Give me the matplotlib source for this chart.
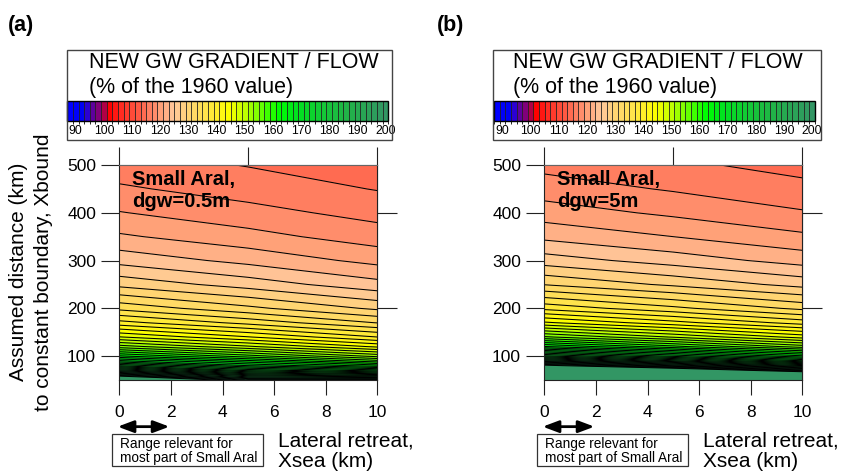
import numpy as np
import matplotlib
matplotlib.use("Agg")
import matplotlib.pyplot as plt
from matplotlib.colors import LinearSegmentedColormap, ListedColormap, BoundaryNorm
from matplotlib.cm import ScalarMappable
from matplotlib.patches import Rectangle

plt.rcParams['font.family'] = ['Liberation Sans', 'DejaVu Sans']

# --- data ---------------------------------------------------------------
xsea_km = [0, 5, 10]
xbound_km = [50, 55, 60, 65, 70, 80, 90, 100, 120, 140, 170, 200,
             250, 300, 350, 400, 450, 500]

# new gw gradient (% of 1960 value); one row per Xbound, columns = Xsea 0/5/10
grad_dgw05 = [
    [214.4, 196.5, 196.8],
    [205.7, 190.5, 189.1],
    [198.2, 186.0, 182.5],
    [191.8, 181.0, 176.9],
    [186.2, 176.5, 172.0],
    [176.8, 169.0, 163.9],
    [169.4, 163.5, 157.6],
    [163.3, 157.9, 152.4],
    [153.9, 149.3, 144.6],
    [147.1, 143.1, 139.0],
    [139.7, 136.3, 132.9],
    [134.4, 131.5, 128.6],
    [128.4, 126.1, 123.7],
    [124.3, 122.4, 120.4],
    [121.3, 119.7, 118.0],
    [119.1, 117.7, 116.3],
    [117.3, 116.1, 114.9],
    [115.9, 114.9, 113.8],
]
grad_dgw5 = [
    [283.2, 263.0, 242.8],
    [261.7, 244.6, 227.4],
    [244.8, 229.9, 215.0],
    [231.1, 218.0, 204.9],
    [219.8, 208.2, 196.5],
    [202.4, 192.8, 183.2],
    [189.4, 181.3, 173.2],
    [179.5, 172.5, 165.4],
    [165.1, 159.6, 154.0],
    [155.3, 150.8, 146.2],
    [145.3, 141.7, 138.1],
    [138.4, 135.5, 132.5],
    [130.9, 128.6, 126.3],
    [126.0, 124.1, 122.2],
    [122.5, 121.0, 119.4],
    [120.0, 118.6, 117.2],
    [118.0, 116.8, 115.6],
    [116.4, 115.4, 114.3],
]
panel_tags = ['(a)', '(b)']
panel_notes = ['Small Aral,\ndgw=0.5m', 'Small Aral,\ndgw=5m']
relevant_range = [0, 2]
cbar_ticks = list(range(90, 201, 10))

# --- colour scale: one box per 2 %, centred on even values ------------------
anchors = [
    (88, '#0000ff'), (92, '#0000f5'), (94, '#3200cd'), (96, '#5f009b'),
    (98, '#870073'), (100, '#b40041'), (102, '#ff0000'), (104, '#ff1914'),
    (108, '#ff3c2d'), (112, '#ff5a44'), (116, '#ff7d5f'), (120, '#ffa078'),
    (124, '#ffc396'), (126, '#ffcb91'), (130, '#ffd573'), (136, '#ffe44b'),
    (140, '#fff028'), (144, '#ffff00'), (150, '#beff00'), (156, '#64ff00'),
    (162, '#00ff00'), (168, '#00e41e'), (178, '#14c837'), (188, '#23af4b'),
    (200, '#329664'),
]
cont = LinearSegmentedColormap.from_list(
    'gw', [((v - 88) / 112, c) for v, c in anchors])
levels = np.arange(87, 202, 2)
box_colors = cont(np.linspace(0, 1, len(levels) - 1))
cmap = ListedColormap(box_colors)
cmap.set_under(box_colors[0])
cmap.set_over(box_colors[-1])
norm = BoundaryNorm(levels, cmap.N)

fig = plt.figure(figsize=(8.43, 4.72), dpi=100)

W, H = 843.0, 472.0
def fx(px):
    return px / W
def fy(px):
    return (H - px) / H

ax_left_px = [119.3, 544.3]
frame_left_px = [66.7, 492.7]
frame_w_px = [325, 328]
cbar_left_px = [67.3, 494.0]
title_left_px = [89.3, 513.3]
xlab_left_px = [278.0, 703.3]
box_left_px = [112.0, 536.7]
tag_left_px = [8.0, 437.0]

for i, grad in enumerate([grad_dgw05, grad_dgw5]):
    ax = fig.add_axes([fx(ax_left_px[i]), fy(380), 258 / W, 215 / H])
    X, Y = np.meshgrid(xsea_km, xbound_km)
    Z = np.array(grad)
    ax.contourf(X, Y, Z, levels=levels, cmap=cmap, norm=norm, extend='both')
    ax.contour(X, Y, Z, levels=levels, colors='k', linewidths=0.75)
    ax.set_xlim(0, 10)
    ax.set_ylim(50, 500)
    ax.set_xticks(range(0, 11, 2))
    ax.set_yticks(range(100, 501, 100))
    ax.tick_params(axis='y', length=12.7, width=0.8, color='#222222',
                   labelsize=12.5, pad=4)
    ax.tick_params(axis='x', length=10.8, width=0.8, color='#222222',
                   labelsize=12.5, pad=7)
    for s in ['left', 'right', 'bottom']:
        ax.spines[s].set_color('#222222')
        ax.spines[s].set_linewidth(0.8)
    ax.spines['top'].set_color('#666666')

    top = ax.secondary_xaxis('top')
    top.set_xticks([0, 5, 10])
    top.tick_params(length=13, width=0.8, color='#222222', labeltop=False)
    top.spines['top'].set_color('#666666')
    right = ax.secondary_yaxis('right')
    right.set_yticks([200, 400])
    right.tick_params(length=14.4, width=0.8, color='#222222', labelright=False)
    right.spines['right'].set_color('#222222')

    ax.text(0.048, 0.975, panel_notes[i], transform=ax.transAxes,
            ha='left', va='top', fontsize=14.5, fontweight='bold', zorder=5)

    # double arrow marking the relevant range
    ax.annotate('', xy=(relevant_range[1] + 0.05, -0.217),
                xytext=(relevant_range[0] - 0.17, -0.217),
                xycoords=ax.get_xaxis_transform(),
                textcoords=ax.get_xaxis_transform(),
                arrowprops=dict(arrowstyle='<|-|>,head_length=0.8,head_width=0.3',
                                color='k', lw=2, mutation_scale=12),
                annotation_clip=False)

    # range box
    fig.add_artist(Rectangle((fx(box_left_px[i]), fy(466)), 151 / W, 32 / H,
                             transform=fig.transFigure, fill=False,
                             edgecolor='#333333', lw=0.9))
    fig.text(fx(box_left_px[i] + 8), fy(448.3), 'Range relevant for',
             fontsize=9.8, va='baseline')
    fig.text(fx(box_left_px[i] + 8), fy(461.7), 'most part of Small Aral',
             fontsize=9.8, va='baseline')

    # x label
    fig.text(fx(xlab_left_px[i]), fy(446.7), 'Lateral retreat,',
             fontsize=15, va='baseline')
    fig.text(fx(xlab_left_px[i]), fy(466.7), 'Xsea (km)',
             fontsize=15, va='baseline')

    # legend frame with colour bar
    fig.add_artist(Rectangle((fx(frame_left_px[i]), fy(140)),
                             frame_w_px[i] / W, 90 / H,
                             transform=fig.transFigure, fill=False,
                             edgecolor='#444444', lw=1.0))
    fig.text(fx(title_left_px[i]), fy(68.3), 'NEW GW GRADIENT / FLOW',
             fontsize=15.5, va='baseline')
    fig.text(fx(title_left_px[i]), fy(93.3), '(% of the 1960 value)',
             fontsize=15.5, va='baseline')
    cax = fig.add_axes([fx(cbar_left_px[i]), fy(120.5), 321 / W, 20 / H])
    cb = fig.colorbar(ScalarMappable(norm=norm, cmap=cmap), cax=cax,
                      orientation='horizontal', drawedges=True,
                      ticks=cbar_ticks)
    cb.dividers.set_color('#222222')
    cb.dividers.set_linewidth(0.6)
    cb.outline.set_linewidth(1.0)
    cax.tick_params(length=0, labelsize=8.8, pad=3.5)

    fig.text(fx(tag_left_px[i]), fy(31), panel_tags[i], fontsize=15.5,
             fontweight='bold', va='baseline')

fig.text(fx(30.8), fy(272), 'Assumed distance (km)\nto constant boundary, Xbound',
         rotation=90, ha='center', va='center', fontsize=15, linespacing=1.37)

fig.savefig('out.png', dpi=100)
